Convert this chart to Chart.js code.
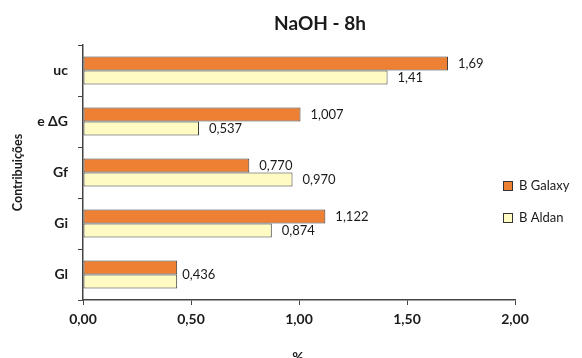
<!DOCTYPE html>
<html>
<head>
<meta charset="utf-8">
<script src="https://cdn.jsdelivr.net/npm/chart.js@4"></script>
<style>
  html, body { margin: 0; padding: 0; background: #fff; }
  #wrap { width: 582px; height: 358px; }
</style>
</head>
<body>
<div id="wrap"><canvas id="naohChart" width="582" height="358"></canvas></div>
<script>
const categories = ['uc', 'e ΔG', 'Gf', 'Gi', 'Gl'];
const galaxyValues = [1.69, 1.007, 0.770, 1.122, 0.436];
const aldanValues = [1.41, 0.537, 0.970, 0.874, 0.436];
const labelDecimals = [2, 3, 3, 3, 3];
const xTicks = [0, 0.5, 1, 1.5, 2];

const FONT = 'Lato, "Open Sans", sans-serif';
const INK = '#1a1a1a';

function fmt(v, d) {
    return v.toFixed(d).replace('.', ',');
}

// value labels to the right of each bar; one label when both bars are equal
const barLabels = {
    id: 'barLabels',
    afterDatasetsDraw(chart) {
        const ctx = chart.ctx;
        const m0 = chart.getDatasetMeta(0).data;
        const m1 = chart.getDatasetMeta(1).data;
        ctx.save();
        ctx.font = '13px ' + FONT;
        ctx.fillStyle = INK;
        ctx.textAlign = 'left';
        ctx.textBaseline = 'middle';
        categories.forEach((c, i) => {
            const d = labelDecimals[i];
            if (galaxyValues[i] === aldanValues[i]) {
                ctx.fillText(fmt(galaxyValues[i], d), m0[i].x + 5, (m0[i].y + m1[i].y) / 2);
            } else {
                ctx.fillText(fmt(galaxyValues[i], d), m0[i].x + 10, m0[i].y);
                ctx.fillText(fmt(aldanValues[i], d), m1[i].x + 10, m1[i].y);
            }
        });
        ctx.restore();
    }
};

// title, x axis unit and the legend on the right
const extras = {
    id: 'extras',
    afterDraw(chart) {
        const ctx = chart.ctx;
        ctx.save();
        ctx.fillStyle = INK;
        ctx.textAlign = 'center';
        ctx.textBaseline = 'middle';
        ctx.font = 'bold 19px ' + FONT;
        ctx.fillText('NaOH - 8h', 320, 24);
        ctx.font = 'bold 14px ' + FONT;
        ctx.fillText('%', 298, 357);

        ctx.font = '13px ' + FONT;
        ctx.textAlign = 'left';
        chart.data.datasets.forEach((ds, i) => {
            const y = 186 + i * 32;
            ctx.fillStyle = ds.backgroundColor;
            ctx.fillRect(503, y - 5, 10, 10);
            ctx.strokeStyle = '#333';
            ctx.lineWidth = 1;
            ctx.strokeRect(503.5, y - 4.5, 9, 9);
            ctx.fillStyle = INK;
            ctx.fillText(ds.label, 519, y);
        });
        ctx.restore();
    }
};

new Chart(document.getElementById('naohChart').getContext('2d'), {
    type: 'bar',
    data: {
        labels: categories,
        datasets: [{
            label: 'B Galaxy',
            data: galaxyValues,
            backgroundColor: '#EE8033',
            borderColor: '#3a3a3a',
            borderWidth: 1,
            borderSkipped: false
        }, {
            label: 'B Aldan',
            data: aldanValues,
            backgroundColor: '#FFFBC2',
            borderColor: '#3a3a3a',
            borderWidth: 1,
            borderSkipped: false
        }]
    },
    options: {
        indexAxis: 'y',
        responsive: false,
        animation: false,
        categoryPercentage: 0.55,
        barPercentage: 1,
        layout: { padding: { left: 0, right: 67, top: 45, bottom: 0 } },
        plugins: {
            legend: { display: false },
            tooltip: { enabled: false },
            title: { display: false }
        },
        scales: {
            x: {
                min: 0,
                max: 2,
                afterBuildTicks: s => { s.ticks = xTicks.map(v => ({ value: v })); },
                afterFit: s => { s.height = 58; },
                border: { display: true, color: '#444', width: 1.5 },
                grid: { display: true, drawOnChartArea: false, drawTicks: true, tickLength: 5, color: '#444' },
                ticks: {
                    color: INK,
                    padding: 6,
                    font: { family: FONT, size: 14, weight: 'bold' },
                    callback: v => fmt(v, 2)
                }
            },
            y: {
                afterFit: s => { s.width = 83; },
                border: { display: true, color: '#444', width: 1.5 },
                grid: { display: true, drawOnChartArea: false, drawTicks: true, tickLength: 5, color: '#444' },
                ticks: {
                    color: INK,
                    padding: 10,
                    font: { family: FONT, size: 14, weight: 'bold' }
                },
                title: {
                    display: true,
                    text: 'Contribuições',
                    color: INK,
                    font: { family: FONT, size: 12.5, weight: 'bold' },
                    padding: { top: 10, bottom: 0 }
                }
            }
        }
    },
    plugins: [barLabels, extras]
});
</script>
</body>
</html>
